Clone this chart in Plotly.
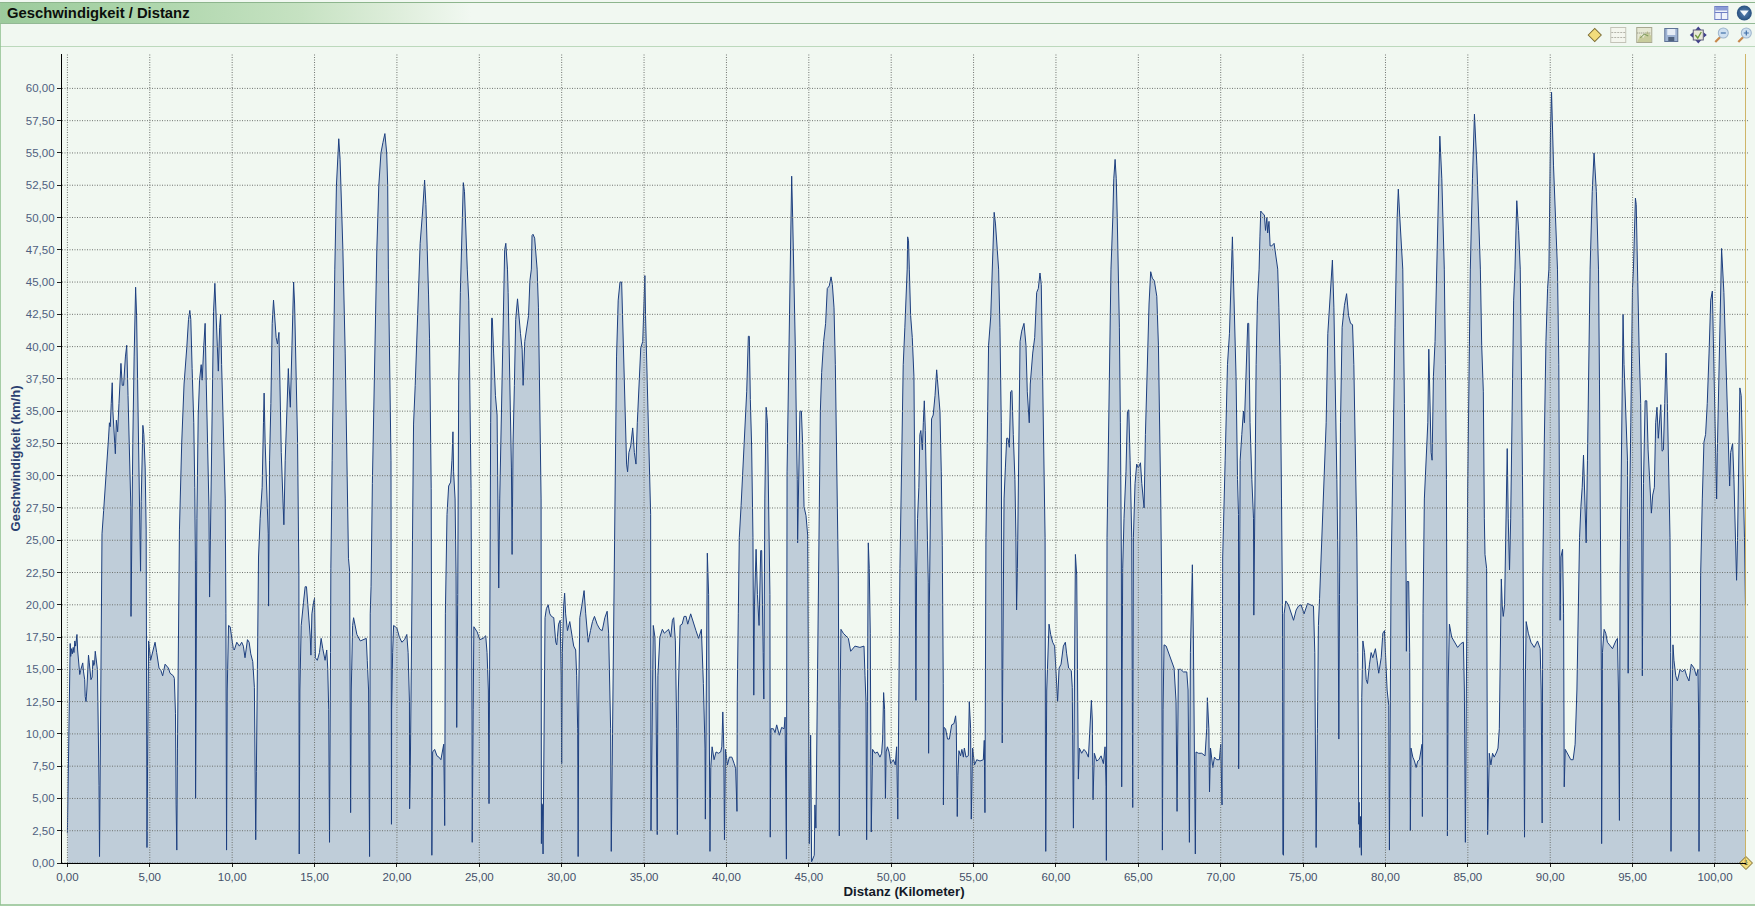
import base64
import plotly.graph_objects as go

# (distance km, speed km/h), one list per stretch of the ride
ride_0_25 = [
 (0.00,2.3),(0.03,5.0),(0.06,11.0),(0.10,14.0),(0.15,16.0),(0.17,17.0),(0.20,16.0),(0.25,16.6),(0.30,16.2),(0.35,16.7),
 (0.40,16.3),(0.45,17.2),(0.50,16.8),(0.58,17.7),(0.62,16.5),(0.68,15.5),(0.75,14.6),(0.80,14.9),(0.88,15.3),(0.93,15.5),
 (0.98,14.8),(1.05,14.2),(1.08,12.9),(1.13,12.5),(1.18,13.4),(1.24,15.0),(1.28,16.1),(1.33,15.5),(1.38,14.8),(1.43,14.2),
 (1.50,14.4),(1.55,15.7),(1.60,15.3),(1.65,15.5),(1.69,16.4),(1.74,15.6),(1.82,15.0),(1.85,12.5),(1.88,10.5),(1.92,6.0),
 (1.95,0.5),(1.98,6.0),(2.00,12.0),(2.03,18.0),(2.06,22.8),(2.10,25.5),(2.20,27.3),(2.30,29.0),(2.40,31.2),(2.50,33.0),
 (2.55,34.1),(2.60,33.8),(2.66,35.6),(2.72,37.2),(2.76,35.0),(2.85,32.6),(2.91,31.7),(2.97,34.3),(3.05,33.4),(3.13,35.6),
 (3.25,38.7),(3.33,37.0),(3.41,37.0),(3.52,39.2),(3.60,40.1),(3.68,36.2),(3.76,32.6),(3.85,27.6),(3.86,19.1),(3.91,27.3),
 (3.97,32.6),(4.05,39.2),(4.14,44.6),(4.20,42.4),(4.26,37.7),(4.32,33.2),(4.38,29.1),(4.44,22.6),(4.48,28.0),(4.54,32.9),
 (4.58,33.9),(4.64,33.2),(4.72,30.6),(4.78,25.8),(4.82,13.4),(4.83,1.2),(4.88,10.0),(4.93,17.2),(5.05,15.7),(5.21,16.6),
 (5.32,17.1),(5.42,16.3),(5.56,15.1),(5.68,14.9),(5.78,14.5),(5.93,15.4),(6.13,15.1),(6.23,14.7),(6.43,14.5),(6.49,14.3),
 (6.56,11.6),(6.60,4.5),(6.64,1.0),(6.68,8.9),(6.74,20.8),(6.80,25.8),(6.94,32.6),(7.08,37.1),(7.25,40.0),(7.35,42.1),
 (7.43,42.8),(7.49,42.1),(7.57,38.3),(7.67,34.1),(7.73,29.1),(7.77,23.4),(7.78,5.0),(7.82,19.9),(7.86,26.7),(7.94,34.7),
 (8.02,37.4),(8.12,38.6),(8.18,37.4),(8.28,40.1),(8.36,41.8),(8.43,37.1),(8.51,31.5),(8.59,27.6),(8.63,20.6),(8.69,27.0),
 (8.77,34.1),(8.87,42.7),(8.95,44.9),(9.01,43.0),(9.10,39.5),(9.16,38.1),(9.24,41.5),(9.30,42.5),(9.36,38.6),(9.48,33.5),
 (9.58,28.2),(9.62,19.3),(9.64,3.0),(9.66,1.0),(9.70,13.4),(9.78,18.4),(9.88,18.3),(9.98,17.4),(10.07,16.6),(10.13,16.5),
 (10.28,17.1),(10.44,16.8),(10.58,17.1),(10.68,16.8),(10.78,15.9),(10.93,17.3),(11.03,17.1),(11.13,16.2),(11.25,15.6),(11.35,13.6),
 (11.41,7.4),(11.43,1.8),(11.47,7.1),(11.54,16.3),(11.60,23.7),(11.70,26.7),(11.82,29.1),(11.90,34.1),(11.94,36.4),(12.00,32.6),
 (12.10,28.8),(12.19,25.5),(12.21,19.9),(12.27,31.2),(12.35,35.6),(12.43,41.8),(12.51,43.6),(12.57,42.1),(12.67,40.7),(12.75,40.2),
 (12.84,41.1),(12.90,37.1),(12.98,31.8),(13.08,28.2),(13.14,26.2),(13.22,31.2),(13.32,35.0),(13.41,38.3),(13.45,37.1),(13.53,35.3),
 (13.63,40.1),(13.73,45.0),(13.79,43.3),(13.89,37.1),(13.97,32.6),(14.05,22.3),(14.07,0.7),(14.11,13.4),(14.19,18.4),(14.33,20.2),
 (14.43,21.4),(14.51,21.4),(14.64,19.3),(14.74,17.5),(14.78,16.1),(14.84,19.3),(14.94,20.2),(15.00,20.5),(15.05,15.9),(15.17,15.7),
 (15.30,16.3),(15.40,17.4),(15.50,16.6),(15.64,15.7),(15.74,16.5),(15.80,15.1),(15.86,11.9),(15.91,1.6),(15.97,16.3),(15.99,22.8),
 (16.07,31.2),(16.15,40.1),(16.23,46.0),(16.33,52.5),(16.40,55.0),(16.47,56.1),(16.55,54.5),(16.62,52.0),(16.72,47.5),(16.86,39.5),
 (16.92,34.7),(17.00,28.2),(17.06,23.6),(17.13,22.6),(17.17,13.4),(17.19,3.9),(17.23,13.4),(17.31,18.4),(17.37,19.0),(17.45,18.4),
 (17.57,17.7),(17.78,17.2),(17.98,17.3),(18.14,17.4),(18.20,15.7),(18.28,13.4),(18.32,4.5),(18.34,0.5),(18.38,19.3),(18.43,21.4),
 (18.51,29.4),(18.59,35.0),(18.68,41.5),(18.78,47.5),(18.90,52.5),(19.03,55.0),(19.15,55.8),(19.27,56.5),(19.38,55.0),(19.44,52.5),
 (19.48,46.0),(19.58,38.0),(19.64,31.2),(19.67,3.0),(19.68,11.9),(19.74,16.3),(19.80,18.4),(19.90,18.3),(20.00,18.2),(20.15,17.5),
 (20.30,17.1),(20.46,17.3),(20.60,17.7),(20.68,16.3),(20.76,12.5),(20.77,4.2),(20.81,6.9),(20.87,14.8),(20.91,21.7),(21.01,34.0),
 (21.11,37.0),(21.21,40.5),(21.31,45.0),(21.41,48.0),(21.56,50.5),(21.68,52.9),(21.76,51.0),(21.85,47.5),(21.92,44.0),(21.98,40.6),
 (22.02,35.0),(22.08,29.0),(22.11,13.4),(22.12,0.6),(22.17,8.6),(22.29,8.8),(22.43,8.3),(22.55,8.2),(22.67,8.0),(22.78,8.9),
 (22.84,9.2),(22.88,5.3),(22.90,2.9),(22.94,19.3),(22.98,22.3),(23.04,27.0),(23.14,29.2),(23.26,29.5),(23.34,31.2),(23.40,33.4),
 (23.44,30.3),(23.53,28.2),(23.59,22.3),(23.63,10.5),(23.69,20.8),(23.75,37.1),(23.85,44.2),(23.95,49.0),(24.03,52.7),(24.10,52.0),
 (24.19,48.0),(24.27,46.0),(24.36,43.6),(24.42,37.0),(24.50,29.0),(24.56,11.0),(24.57,1.6),(24.63,11.9),(24.67,18.3),(24.87,17.9),
]

ride_25_50 = [
 (25.03,17.3),(25.23,17.4),(25.39,17.6),(25.47,16.3),(25.55,13.4),(25.59,4.6),(25.63,22.8),(25.69,34.1),(25.75,42.2),(25.79,42.2),
 (25.87,39.5),(25.98,36.2),(26.08,34.7),(26.14,22.8),(26.18,21.3),(26.24,28.2),(26.34,35.6),(26.44,43.0),(26.50,46.0),(26.54,47.5),
 (26.61,48.0),(26.67,47.0),(26.71,46.0),(26.75,44.2),(26.85,37.0),(26.95,30.6),(26.99,23.9),(27.05,32.6),(27.13,37.0),(27.21,42.1),
 (27.32,43.7),(27.40,42.1),(27.50,41.0),(27.60,39.8),(27.66,37.0),(27.76,40.4),(27.87,41.5),(27.99,42.4),(28.07,45.1),(28.16,46.0),
 (28.20,48.6),(28.26,48.7),(28.36,48.4),(28.43,47.5),(28.51,46.0),(28.59,43.0),(28.67,34.1),(28.75,28.2),(28.77,1.5),(28.79,4.6),
 (28.83,4.5),(28.87,0.7),(28.91,10.4),(28.99,19.0),(29.07,19.7),(29.18,20.0),(29.28,19.3),(29.38,19.1),(29.52,19.0),(29.64,17.1),
 (29.70,16.9),(29.81,18.5),(29.91,18.8),(29.97,14.5),(30.00,7.7),(30.04,16.3),(30.12,19.9),(30.18,20.9),(30.24,19.3),(30.35,18.0),
 (30.49,18.7),(30.61,17.8),(30.73,16.8),(30.85,16.5),(30.91,14.5),(30.97,10.4),(31.00,0.5),(31.04,13.4),(31.10,19.0),(31.22,19.9),
 (31.36,21.1),(31.46,19.3),(31.61,17.1),(31.75,18.0),(31.87,18.7),(31.99,19.1),(32.15,18.5),(32.32,18.1),(32.46,18.0),(32.62,19.0),
 (32.76,19.5),(32.85,17.8),(32.93,13.4),(32.97,10.4),(33.01,0.9),(33.05,5.9),(33.13,13.4),(33.19,22.8),(33.27,31.2),(33.33,39.2),
 (33.43,43.6),(33.54,45.0),(33.64,45.0),(33.70,42.4),(33.78,37.1),(33.86,34.1),(33.94,30.9),(34.00,30.3),(34.08,31.8),(34.19,32.3),
 (34.31,33.7),(34.41,31.8),(34.51,30.9),(34.59,34.1),(34.72,37.1),(34.80,39.9),(34.92,40.4),(35.05,45.5),(35.09,42.4),(35.19,37.1),
 (35.32,30.3),(35.40,27.0),(35.42,2.5),(35.48,9.5),(35.56,18.4),(35.66,17.5),(35.72,13.4),(35.80,2.2),(35.84,14.5),(35.96,17.5),
 (36.11,18.1),(36.23,17.8),(36.37,18.0),(36.49,18.1),(36.62,17.5),(36.72,18.8),(36.80,19.0),(36.90,17.2),(36.98,10.4),(37.02,2.2),
 (37.08,13.4),(37.19,18.4),(37.31,18.5),(37.43,19.1),(37.55,19.1),(37.65,18.5),(37.83,19.3),(38.00,18.5),(38.15,18.0),(38.31,17.4),
 (38.48,18.1),(38.60,13.9),(38.70,8.9),(38.72,3.4),(38.76,13.4),(38.80,22.8),(38.84,24.0),(38.92,20.8),(38.96,13.4),(39.00,0.9),
 (39.05,7.4),(39.13,9.0),(39.25,8.0),(39.37,8.6),(39.51,8.5),(39.65,8.6),(39.72,9.0),(39.78,11.7),(39.84,8.9),(39.88,1.8),
 (39.94,8.8),(40.06,7.6),(40.18,8.2),(40.33,8.2),(40.47,7.7),(40.56,7.3),(40.64,4.0),(40.66,13.4),(40.72,19.3),(40.78,25.2),
 (40.89,27.7),(40.99,30.3),(41.13,34.1),(41.23,36.5),(41.33,40.8),(41.39,40.8),(41.45,35.9),(41.53,32.3),(41.61,25.2),(41.66,13.0),
 (41.70,19.9),(41.80,24.3),(41.88,20.8),(41.98,18.4),(42.08,24.2),(42.14,24.2),(42.23,16.3),(42.27,12.7),(42.33,28.2),(42.41,35.3),
 (42.49,34.1),(42.57,28.2),(42.64,20.8),(42.66,2.0),(42.70,10.4),(42.85,10.4),(42.95,10.1),(43.05,10.7),(43.21,9.9),(43.35,10.5),
 (43.50,10.4),(43.56,11.3),(43.60,6.8),(43.64,0.3),(43.68,30.3),(43.76,38.0),(43.84,46.0),(43.90,50.0),(43.96,53.2),(44.02,50.0),
 (44.10,46.0),(44.18,40.0),(44.26,32.6),(44.30,29.7),(44.32,24.8),(44.38,30.6),(44.46,35.0),(44.55,35.0),(44.62,32.6),(44.71,27.6),
 (44.83,26.9),(44.93,25.4),(44.99,8.9),(45.03,1.5),(45.11,9.9),(45.17,0.1),(45.33,0.6),(45.37,4.5),(45.43,2.7),(45.47,7.4),
 (45.54,17.8),(45.62,28.2),(45.70,35.0),(45.78,38.0),(45.90,40.4),(46.02,41.8),(46.12,44.5),(46.24,44.7),(46.35,45.4),(46.43,44.8),
 (46.53,43.0),(46.61,38.6),(46.69,32.6),(46.75,28.2),(46.79,22.3),(46.83,10.4),(46.85,2.1),(46.89,11.9),(46.95,18.1),(47.09,17.8),
 (47.30,17.5),(47.40,17.4),(47.54,16.4),(47.66,16.6),(47.80,16.8),(48.10,16.7),(48.35,16.8),(48.41,14.5),(48.47,12.5),(48.51,1.8),
 (48.57,19.3),(48.61,24.8),(48.67,22.8),(48.73,17.8),(48.79,2.4),(48.83,7.4),(48.87,8.8),(49.02,8.5),(49.16,8.6),(49.32,8.2),
 (49.42,8.5),(49.48,9.6),(49.54,13.2),(49.60,11.9),(49.65,5.0),(49.69,8.6),(49.77,9.0),(49.87,8.6),(49.97,7.7),(50.13,8.0),
 (50.25,7.6),(50.33,9.0),(50.40,3.4),
]

ride_50_76 = [
 (50.53,22.8),(50.63,31.8),(50.73,38.6),(50.83,41.5),(50.93,44.2),(50.97,46.0),(51.00,48.5),(51.05,48.2),(51.10,46.0),(51.18,42.4),
 (51.28,40.7),(51.38,37.7),(51.44,28.2),(51.48,17.8),(51.50,12.6),(51.54,22.3),(51.60,26.7),(51.68,29.1),(51.74,33.2),(51.80,33.5),
 (51.89,32.0),(51.95,34.1),(52.01,35.8),(52.07,33.5),(52.15,26.7),(52.25,21.7),(52.27,8.5),(52.31,19.3),(52.39,28.2),(52.45,34.4),
 (52.55,34.7),(52.66,36.2),(52.76,38.2),(52.86,36.5),(52.96,35.0),(53.04,30.3),(53.10,24.6),(53.16,13.9),(53.17,4.5),(53.20,10.5),
 (53.30,10.4),(53.42,9.6),(53.53,9.6),(53.67,10.7),(53.81,10.8),(53.91,11.4),(53.95,10.7),(54.01,3.6),(54.05,6.8),(54.11,8.7),
 (54.21,8.3),(54.29,8.8),(54.38,8.2),(54.44,8.9),(54.54,8.2),(54.68,8.3),(54.74,12.5),(54.82,10.4),(54.86,3.4),(54.90,7.4),
 (54.94,8.9),(55.06,7.6),(55.19,8.0),(55.39,7.9),(55.59,8.0),(55.65,9.5),(55.69,3.9),(55.75,25.2),(55.83,32.6),(55.91,40.1),
 (56.04,42.3),(56.14,46.0),(56.20,49.0),(56.25,50.4),(56.33,49.5),(56.43,48.0),(56.52,46.0),(56.60,41.5),(56.68,34.1),(56.74,9.3),
 (56.78,19.3),(56.85,28.2),(56.93,30.6),(57.01,32.9),(57.09,32.9),(57.17,32.2),(57.25,36.5),(57.33,36.6),(57.41,33.2),(57.51,29.7),
 (57.57,25.2),(57.61,19.6),(57.66,22.8),(57.74,29.7),(57.82,40.4),(57.92,41.2),(58.06,41.8),(58.18,40.1),(58.26,36.5),(58.38,34.1),
 (58.44,37.1),(58.59,39.5),(58.71,40.7),(58.83,44.2),(58.93,44.5),(59.03,45.7),(59.11,44.8),(59.19,37.7),(59.27,31.2),(59.34,25.2),
 (59.36,10.0),(59.38,0.9),(59.44,13.4),(59.52,17.5),(59.58,18.5),(59.68,17.7),(59.80,17.1),(59.92,16.8),(60.00,14.8),(60.10,12.5),
 (60.19,15.1),(60.31,15.4),(60.45,16.8),(60.57,17.1),(60.65,16.2),(60.77,15.1),(60.93,14.9),(60.99,13.6),(61.06,2.7),(61.12,19.3),
 (61.18,23.9),(61.26,22.3),(61.32,8.9),(61.36,6.5),(61.42,8.9),(61.56,8.5),(61.70,8.8),(61.83,8.6),(61.97,8.2),(62.07,10.4),
 (62.15,12.6),(62.21,11.0),(62.25,4.9),(62.33,8.5),(62.47,7.9),(62.59,8.0),(62.74,8.3),(62.88,7.7),(62.98,9.0),(63.04,5.9),
 (63.06,0.2),(63.10,25.2),(63.18,33.2),(63.28,42.7),(63.34,46.0),(63.45,50.0),(63.51,53.0),(63.59,54.5),(63.66,53.0),(63.72,50.0),
 (63.79,46.0),(63.85,41.5),(63.91,34.1),(63.97,23.7),(63.99,5.9),(64.05,22.8),(64.13,26.7),(64.25,30.3),(64.34,35.0),(64.42,35.1),
 (64.50,31.2),(64.60,25.2),(64.66,4.3),(64.70,25.2),(64.80,29.4),(64.90,30.9),(65.00,30.6),(65.13,31.0),(65.21,29.4),(65.35,27.5),
 (65.43,33.2),(65.55,38.9),(65.65,43.3),(65.75,45.8),(65.85,45.3),(65.97,45.1),(66.12,43.9),(66.22,40.1),(66.28,35.6),(66.36,28.2),
 (66.42,20.8),(66.46,1.0),(66.50,11.9),(66.56,16.9),(66.69,16.8),(66.83,16.3),(67.03,15.7),(67.17,15.1),(67.29,12.5),(67.35,4.0),
 (67.43,15.0),(67.57,15.0),(67.74,14.8),(67.94,14.8),(68.02,13.4),(68.10,1.6),(68.16,16.3),(68.24,21.7),(68.28,23.1),(68.34,17.5),
 (68.40,10.4),(68.46,0.7),(68.50,8.6),(68.65,8.5),(68.85,8.5),(69.05,8.3),(69.15,10.4),(69.19,12.8),(69.28,10.4),(69.32,5.5),
 (69.38,8.9),(69.52,7.4),(69.62,8.2),(69.76,8.0),(69.92,8.0),(70.00,9.2),(70.08,4.5),(70.12,23.7),(70.27,31.2),(70.41,38.6),
 (70.53,41.0),(70.60,44.0),(70.66,47.0),(70.71,48.5),(70.76,46.0),(70.83,42.1),(70.93,37.7),(71.02,29.7),(71.08,27.0),(71.09,7.3),
 (71.18,31.2),(71.28,33.2),(71.38,35.0),(71.44,34.1),(71.54,38.6),(71.64,41.8),(71.70,41.8),(71.78,34.1),(71.89,29.7),(71.99,26.7),
 (72.01,19.2),(72.07,29.7),(72.15,38.6),(72.23,43.6),(72.33,46.0),(72.38,48.5),(72.43,50.5),(72.55,50.3),(72.65,50.2),(72.72,49.0),
 (72.80,50.0),(72.85,48.8),(72.93,49.7),(73.00,47.8),(73.10,47.8),(73.24,48.0),(73.33,47.0),(73.46,46.0),(73.53,43.0),(73.61,38.6),
 (73.69,28.2),(73.75,19.3),(73.77,0.7),(73.81,0.6),(73.85,19.3),(73.95,20.3),(74.11,20.0),(74.25,19.4),(74.42,18.8),(74.58,19.6),
 (74.72,19.9),(74.88,20.0),(75.06,19.3),(75.27,20.1),(75.43,20.0),(75.63,19.9),(75.71,16.3),(75.79,1.2),(75.87,10.4),(75.93,18.4),
 (76.00,20.5),
]

ride_76_end = [
 (76.20,27.9),(76.40,34.1),(76.50,41.0),(76.67,44.2),(76.78,46.7),(76.87,43.0),(76.97,37.1),(77.05,29.7),(77.11,23.7),(77.17,9.6),
 (77.21,20.8),(77.27,34.1),(77.37,41.5),(77.51,43.2),(77.64,44.1),(77.76,42.4),(77.88,41.8),(78.00,41.7),(78.08,38.6),(78.16,32.6),
 (78.26,25.2),(78.32,16.3),(78.38,3.0),(78.40,4.7),(78.44,1.2),(78.48,3.6),(78.54,0.6),(78.56,12.8),(78.63,17.2),(78.73,16.3),
 (78.83,14.2),(78.91,13.9),(79.03,15.4),(79.13,16.3),(79.23,15.9),(79.39,16.6),(79.49,15.7),(79.59,14.7),(79.74,15.9),(79.84,17.8),
 (79.94,18.0),(80.02,15.1),(80.10,13.4),(80.20,12.2),(80.24,1.0),(80.34,22.3),(80.44,31.2),(80.58,41.5),(80.71,50.0),(80.78,52.2),
 (80.87,50.0),(81.05,46.0),(81.15,35.6),(81.21,29.7),(81.25,22.3),(81.27,16.4),(81.31,21.8),(81.41,21.8),(81.47,16.3),(81.51,2.5),
 (81.55,8.9),(81.66,8.2),(81.76,7.9),(81.86,7.4),(81.96,7.9),(82.06,8.0),(82.16,8.6),(82.22,9.2),(82.24,3.6),(82.28,19.3),
 (82.36,28.2),(82.46,31.2),(82.57,34.1),(82.63,39.8),(82.69,37.1),(82.77,31.8),(82.83,31.2),(82.91,37.7),(83.01,40.4),(83.11,46.0),
 (83.20,52.0),(83.30,56.3),(83.42,53.0),(83.50,48.0),(83.57,46.0),(83.64,38.6),(83.70,29.7),(83.74,13.4),(83.76,2.1),(83.80,13.4),
 (83.88,18.5),(84.02,17.5),(84.18,17.1),(84.38,16.7),(84.58,17.0),(84.73,17.1),(84.79,13.4),(84.85,1.6),(84.99,29.1),(85.09,38.6),
 (85.15,46.0),(85.28,53.0),(85.40,58.0),(85.55,54.0),(85.76,46.0),(85.84,40.1),(85.94,36.5),(86.00,26.7),(86.04,23.9),(86.14,22.8),
 (86.18,13.4),(86.20,2.2),(86.30,8.5),(86.40,7.6),(86.50,8.5),(86.60,8.2),(86.75,8.6),(86.83,8.9),(86.91,10.4),(86.97,17.8),
 (87.03,22.0),(87.09,19.9),(87.15,19.1),(87.23,20.0),(87.31,28.2),(87.39,32.1),(87.45,26.7),(87.53,22.7),(87.60,26.7),(87.68,34.1),
 (87.78,43.6),(87.86,46.0),(87.97,51.3),(88.08,49.0),(88.18,46.0),(88.26,37.1),(88.34,26.7),(88.40,10.4),(88.44,2.0),(88.48,13.4),
 (88.54,18.7),(88.67,17.8),(88.83,17.1),(89.03,16.7),(89.23,17.2),(89.39,16.6),(89.45,13.4),(89.51,3.1),(89.55,22.3),(89.64,32.6),
 (89.74,40.4),(89.84,44.5),(89.92,46.0),(90.02,57.0),(90.08,59.7),(90.20,54.0),(90.32,50.0),(90.44,46.0),(90.52,38.6),(90.58,24.0),
 (90.60,18.8),(90.65,23.7),(90.75,24.3),(90.81,19.3),(90.85,5.9),(90.91,8.8),(91.05,8.5),(91.25,8.0),(91.39,8.0),(91.51,9.2),
 (91.62,13.4),(91.70,19.3),(91.78,25.2),(91.86,27.6),(91.94,29.1),(92.02,31.6),(92.12,28.2),(92.18,24.8),(92.26,31.2),(92.36,41.5),
 (92.42,46.0),(92.55,52.0),(92.66,55.0),(92.80,52.0),(92.93,46.0),(92.99,37.1),(93.07,25.2),(93.11,13.4),(93.12,1.5),(93.17,16.3),
 (93.27,18.1),(93.37,17.8),(93.47,17.1),(93.64,16.8),(93.78,16.6),(93.98,17.2),(94.08,17.4),(94.14,13.4),(94.20,3.3),(94.24,22.3),
 (94.30,31.2),(94.36,36.2),(94.42,42.5),(94.48,38.6),(94.58,34.1),(94.69,31.2),(94.73,14.7),(94.79,25.2),(94.89,34.1),(94.99,44.5),
 (95.05,46.0),(95.17,51.5),(95.22,51.0),(95.29,46.0),(95.39,40.1),(95.49,35.6),(95.55,28.2),(95.59,14.5),(95.66,29.4),(95.76,35.8),
 (95.86,35.8),(95.94,32.0),(96.06,28.5),(96.14,27.1),(96.22,28.5),(96.32,29.1),(96.40,34.1),(96.48,35.3),(96.56,32.9),(96.63,34.1),
 (96.71,35.5),(96.79,31.9),(96.87,32.0),(96.95,35.6),(97.03,39.5),(97.11,35.6),(97.19,31.2),(97.27,25.2),(97.31,16.3),(97.33,0.9),
 (97.37,10.4),(97.45,16.9),(97.51,15.7),(97.62,14.5),(97.72,14.1),(97.88,15.0),(98.02,14.8),(98.16,15.0),(98.28,14.5),(98.42,14.1),
 (98.56,15.4),(98.73,15.1),(98.87,14.5),(98.97,15.0),(99.01,11.0),(99.03,0.9),(99.07,10.4),(99.13,22.3),(99.23,28.2),(99.33,32.6),
 (99.43,33.2),(99.53,35.6),(99.64,39.5),(99.74,43.6),(99.84,44.3),(99.90,40.1),(99.98,34.1),(100.06,30.3),(100.10,28.2),(100.14,31.8),
 (100.24,37.7),(100.34,44.5),(100.40,47.6),(100.54,44.2),(100.64,40.1),(100.75,35.6),(100.83,31.2),(100.89,29.2),(100.95,31.8),(101.07,32.5),
 (101.15,29.7),(101.23,25.8),(101.31,21.9),(101.37,25.2),(101.45,34.1),(101.51,36.8),(101.59,36.2),(101.69,31.2),(101.79,25.2),(101.85,20.0),
]

x_ticks = [0, 5, 10, 15, 20, 25, 30, 35, 40, 45, 50, 55, 60, 65, 70, 75, 80, 85, 90, 95, 100]
y_ticks = [0, 2.5, 5, 7.5, 10, 12.5, 15, 17.5, 20, 22.5, 25, 27.5, 30, 32.5, 35, 37.5, 40, 42.5, 45, 47.5, 50, 52.5, 55, 57.5, 60]
marker_at = 101.88
title_text = "Geschwindigkeit / Distanz"
x_title = "Distanz (Kilometer)"
y_title = "Geschwindigkeit (km/h)"

ride = ride_0_25 + ride_25_50 + ride_50_76 + ride_76_end
distance = [p[0] for p in ride]
speed = [p[1] for p in ride]

W, H = 1755, 906
L, R, T, B = 62.3, 1745.7, 54.0, 863.0
PW, PH = R - L, B - T
BG = "#f1f8f1"

# window chrome and toolbar icons, drawn as one background picture
svg = f'''<svg xmlns="http://www.w3.org/2000/svg" width="{W}" height="{H}" viewBox="0 0 {W} {H}">
<defs><linearGradient id="g" x1="0" x2="1" y1="0" y2="0">
<stop offset="0" stop-color="#9ccb9c"/><stop offset="0.15" stop-color="#aed6ac"/><stop offset="0.30" stop-color="#c6e2c2"/><stop offset="0.40" stop-color="#dfeedc"/><stop offset="0.47" stop-color="{BG}"/><stop offset="1" stop-color="{BG}"/>
</linearGradient>
<radialGradient id="b"><stop offset="0" stop-color="#5d86b8"/><stop offset="1" stop-color="#28507f"/></radialGradient></defs>
<rect x="1" y="3" width="1000" height="20" fill="url(#g)"/>
<line x1="0" y1="2.5" x2="{W}" y2="2.5" stroke="#8db58d" stroke-width="1"/>
<line x1="0" y1="23.5" x2="{W}" y2="23.5" stroke="#93b995" stroke-width="1"/>
<line x1="0" y1="46.5" x2="{W}" y2="46.5" stroke="#bcd9bc" stroke-width="1"/>
<line x1="0.5" y1="3" x2="0.5" y2="905" stroke="#8fc08f" stroke-width="1.2"/>
<line x1="0" y1="905" x2="{W}" y2="905" stroke="#8fc08f" stroke-width="1.4"/>
<g fill="none">
<rect x="1714.5" y="6.5" width="13" height="13" fill="#eef2fa" stroke="#6f7fc4"/><rect x="1715" y="7" width="12" height="3.5" fill="#8b9bd6"/>
<path d="M1714.5 12.5H1727.5M1721 12.5V19.5" stroke="#6f7fc4"/>
<circle cx="1744" cy="13" r="7.5" fill="url(#b)"/><path d="M1739.5 10.5H1748.5L1744 16Z" fill="#f4f8fc"/>
<path d="M1588 35 L1594.5 28.5 L1601 35 L1594.5 41.5Z" fill="#f2dc7c" stroke="#7a6a30"/>
<rect x="1610.5" y="27.5" width="15" height="15" fill="#f4f6ee" stroke="#c4c4b8"/><path d="M1611 32.5H1625M1611 37.5H1625" stroke="#b4b4aa" stroke-dasharray="2 1"/>
<rect x="1636.5" y="27.5" width="15" height="15" fill="#e6e8d4" stroke="#a8a890"/><path d="M1637 42 L1640 35 L1643 38 L1647 31 L1651 36 V42Z" fill="#c8cc9c"/><path d="M1637 33 H1651" stroke="#8a8a7a" stroke-dasharray="1 1"/><path d="M1640 38 L1644 34 L1648 36" stroke="#7f9a5c"/>
<rect x="1664.5" y="28.5" width="13" height="13" fill="#9fb4d4" stroke="#5f7396"/><rect x="1667" y="29" width="8" height="6" fill="#e6edf6"/><rect x="1668" y="37" width="6" height="4" fill="#4f627e"/>
<path d="M1698 26.5 L1701 30 H1695Z M1698 43.5 L1701 40 H1695Z M1689.5 35 L1693 32 V38Z M1706.5 35 L1703 32 V38Z" fill="#3f3f8c"/>
<rect x="1693" y="30" width="10" height="10" fill="#e8e8d8" stroke="#5f5f7f"/><path d="M1695 35 L1697.5 38 L1701 32" stroke="#6f9a3c" stroke-width="1.3"/>
<path d="M1715 42 L1720 37" stroke="#c8884c" stroke-width="2.2"/><circle cx="1723" cy="33" r="5" fill="#cfe0f0" stroke="#9db4cc"/><path d="M1720.5 33H1725.5" stroke="#3f6fa8" stroke-width="1.2"/>
<path d="M1738 42 L1743 37" stroke="#c8884c" stroke-width="2.2"/><circle cx="1746" cy="33" r="5" fill="#cfe0f0" stroke="#9db4cc"/><path d="M1743.5 33H1748.5M1746 30.5V35.5" stroke="#3f6fa8" stroke-width="1.2"/>
</g></svg>'''
svg_uri = "data:image/svg+xml;base64," + base64.b64encode(svg.encode()).decode()

fig = go.Figure()
fig.add_trace(go.Scatter(
    x=distance, y=speed, mode="lines", fill="tozeroy", fillcolor="#bfcdd9",
    line=dict(color="#1d3f7f", width=1), hoverinfo="skip", showlegend=False))
fig.add_trace(go.Scatter(
    x=[marker_at], y=[0], mode="markers+text", text=["1"], textposition="middle center",
    textfont=dict(family="Liberation Sans", size=7, color="#3a3010"),
    marker=dict(symbol="diamond", size=10, color="#f2dc7c", line=dict(color="#7a6a30", width=1)),
    cliponaxis=False, hoverinfo="skip", showlegend=False))

shapes = []
dots = dict(color="#6f736f", width=1, dash="1px,1.5px")
for t in y_ticks:
    shapes.append(dict(type="line", xref="paper", yref="y", x0=0, x1=1.002, y0=t, y1=t, line=dots, layer="above"))
for t in x_ticks:
    shapes.append(dict(type="line", xref="x", yref="paper", x0=t, x1=t, y0=0, y1=1, line=dots, layer="above"))
shapes.append(dict(type="line", xref="x", yref="paper", x0=marker_at, x1=marker_at, y0=0, y1=1,
                   line=dict(color="#c9a94f", width=1.6), layer="above"))

fig.update_layout(
    width=W, height=H, autosize=False,
    margin=dict(l=L, r=W - R, t=T, b=H - B, pad=0),
    paper_bgcolor=BG, plot_bgcolor="rgba(0,0,0,0)",
    separators=",.",
    showlegend=False, shapes=shapes, hovermode=False,
    font=dict(family="Liberation Sans"),
    images=[dict(source=svg_uri, xref="paper", yref="paper", x=-L / PW, y=B / PH,
                 sizex=W / PW, sizey=H / PH, xanchor="left", yanchor="top", sizing="stretch", layer="below")],
    annotations=[dict(text=f"<b>{title_text}</b>", xref="paper", yref="paper",
                      x=(5 - L) / PW, y=(B - 13) / PH, xanchor="left", yanchor="middle", showarrow=False,
                      font=dict(family="Liberation Sans", size=14.8, color="#0c0f0c"))],
)
fig.update_xaxes(
    range=[(L - 67.7) / 16.47, (R - 67.7) / 16.47], tickvals=x_ticks, tickformat=".2f",
    showgrid=False, zeroline=False, showline=True, linecolor="#000000", linewidth=1.2,
    ticks="outside", ticklen=3, tickcolor="#222222", tickwidth=1,
    tickfont=dict(family="Liberation Sans", size=11.5, color="#44506a"),
    title=dict(text=f"<b>{x_title}</b>", standoff=4, font=dict(family="Liberation Sans", size=13.3, color="#141a28")))
fig.update_yaxes(
    range=[0, (B - T) / 12.91], tickvals=y_ticks, tickformat=".2f",
    showgrid=False, zeroline=False, showline=True, linecolor="#000000", linewidth=1.2,
    ticks="outside", ticklen=4, tickcolor="#222222", tickwidth=1,
    tickfont=dict(family="Liberation Sans", size=11.5, color="#4f5f80"),
    title=dict(text=f"<b>{y_title}</b>", standoff=2, font=dict(family="Liberation Sans", size=13, color="#2b3f70")))

fig.write_html("out.html", config={"displayModeBar": False},
               post_script="document.body.style.margin='0';document.documentElement.style.overflow='hidden';")
